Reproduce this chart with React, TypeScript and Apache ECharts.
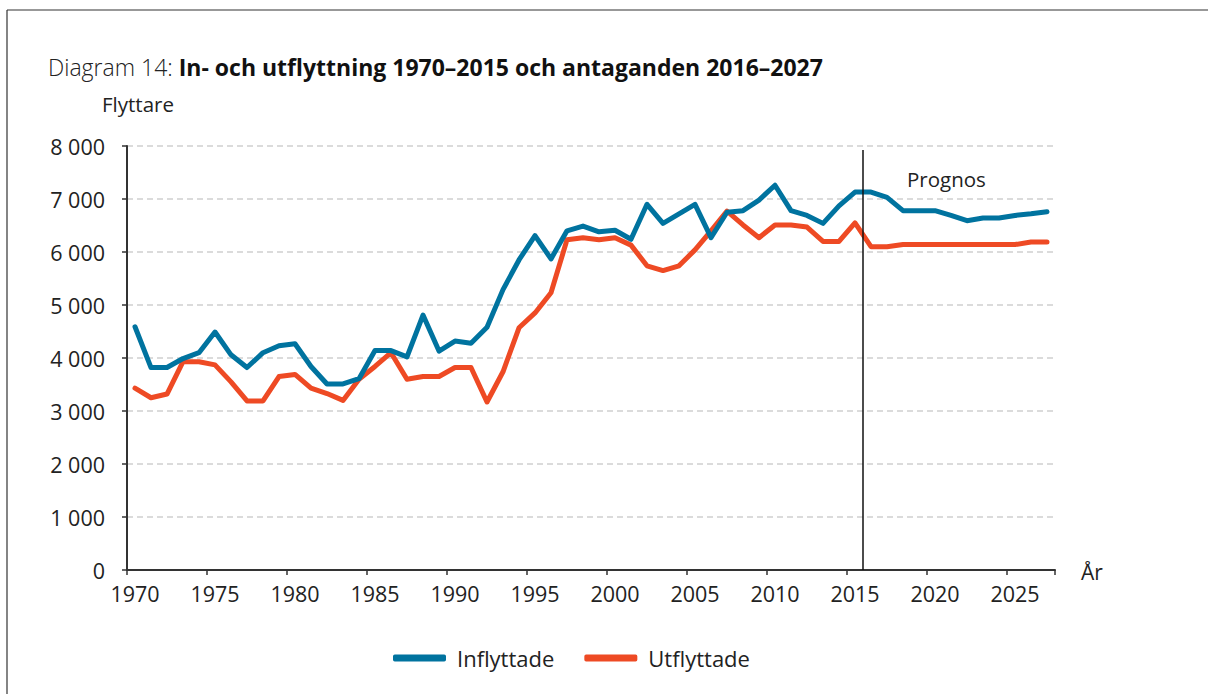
import React, { useEffect, useRef } from "react";
import * as echarts from "echarts";

const years: string[] = [];
for (let y = 1970; y <= 2027; y++) years.push(String(y));

const inflyttade = [
  4590, 3820, 3820, 3990, 4100, 4490, 4060, 3820, 4100, 4230, 4270,
  3840, 3510, 3510, 3610, 4140, 4140, 4020, 4810, 4130, 4320, 4280,
  4580, 5290, 5850, 6310, 5870, 6400, 6490, 6380, 6410, 6240, 6900,
  6540, 6720, 6900, 6270, 6750, 6780, 6980, 7260, 6780, 6690, 6540,
  6870, 7130, 7130, 7030, 6780, 6780, 6780, 6690, 6590, 6640, 6640,
  6690, 6720, 6760,
];

const utflyttade = [
  3430, 3250, 3320, 3930, 3930, 3870, 3550, 3190, 3190, 3650, 3690,
  3430, 3330, 3200, 3600, 3840, 4100, 3600, 3650, 3650, 3820, 3820,
  3170, 3740, 4570, 4850, 5230, 6230, 6270, 6230, 6270, 6130, 5740,
  5650, 5740, 6040, 6400, 6770, 6510, 6270, 6510, 6510, 6470, 6200,
  6200, 6550, 6100, 6100, 6140, 6140, 6140, 6140, 6140, 6140, 6140,
  6140, 6190, 6190,
];

const forecastStart = "2016";
const FONT = "'Open Sans', 'Noto Sans', sans-serif";

const fmt = (v: number) =>
  v >= 1000 ? `${Math.floor(v / 1000)} ${String(v % 1000).padStart(3, "0")}` : String(v);

export default function App() {
  const ref = useRef<HTMLDivElement>(null);
  useEffect(() => {
    if (!ref.current) return;
    const chart = echarts.init(ref.current, null, { renderer: "svg" });
    chart.setOption({
      animation: false,
      backgroundColor: "#ffffff",
      textStyle: { fontFamily: FONT },
      title: {
        left: 43,
        top: 50,
        text: "{a|Diagram 14: }{b|In- och utflyttning 1970–2015 och antaganden 2016–2027}",
        textStyle: {
          rich: {
            a: { fontSize: 23, color: "#222", fontFamily: FONT, fontWeight: 300 },
            b: { fontSize: 23, color: "#111", fontFamily: FONT, fontWeight: "bold" },
          },
        },
      },
      grid: { left: 127, right: 153, top: 146, bottom: 124, containLabel: false },
      legend: {
        left: 388,
        top: 642,
        itemWidth: 53,
        itemHeight: 7,
        itemGap: 30,
        icon: "roundRect",
        textStyle: { fontSize: 22, color: "#222", fontFamily: FONT, padding: [0, 0, 0, 6] },
        data: ["Inflyttade", "Utflyttade"],
      },
      xAxis: {
        type: "category",
        data: years,
        boundaryGap: true,
        name: "År",
        nameLocation: "end",
        nameGap: 26,
        nameTextStyle: { fontSize: 21, color: "#222", verticalAlign: "top", padding: [-9, 0, 0, 0] },
        axisLine: { lineStyle: { color: "#333", width: 2 } },
        axisTick: { show: true, interval: 4, length: 5, lineStyle: { color: "#333", width: 1.5 } },
        axisLabel: { interval: 4, fontSize: 21.5, color: "#222", margin: 12 },
        splitLine: { show: false },
      },
      yAxis: {
        type: "value",
        min: 0,
        max: 8000,
        interval: 1000,
        axisLine: { show: true, lineStyle: { color: "#333", width: 2 } },
        axisTick: { show: true, length: 5, lineStyle: { color: "#333", width: 1.5 } },
        axisLabel: { fontSize: 21.5, color: "#222", margin: 22, formatter: (v: number) => fmt(v) },
        splitLine: { lineStyle: { color: "#cfcfcf", type: [6, 4], width: 1.5 } },
      },
      series: [
        {
          name: "Inflyttade",
          type: "line",
          data: inflyttade,
          symbol: "none",
          color: "#00739f",
          lineStyle: { width: 5, color: "#00739f", cap: "round", join: "round" },
          z: 3,
        },
        {
          name: "Utflyttade",
          type: "line",
          data: utflyttade,
          symbol: "none",
          color: "#ee4a24",
          lineStyle: { width: 5, color: "#ee4a24", cap: "round", join: "round" },
          z: 2,
        },
      ],
    });

    const idx = years.indexOf(forecastStart);
    const xa = chart.convertToPixel({ xAxisIndex: 0 }, years[idx - 1]) as number;
    const xb = chart.convertToPixel({ xAxisIndex: 0 }, years[idx]) as number;
    const xLine = (xa + xb) / 2;
    const yTop = (chart.convertToPixel({ yAxisIndex: 0 }, 8000) as number) + 4;
    const yBot = chart.convertToPixel({ yAxisIndex: 0 }, 0) as number;

    chart.setOption({
      graphic: [
        { type: "line", shape: { x1: 7, y1: 10, x2: 1208, y2: 10 }, style: { stroke: "#333", lineWidth: 1.2 } },
        { type: "line", shape: { x1: 7, y1: 10, x2: 7, y2: 694 }, style: { stroke: "#333", lineWidth: 1.2 } },
        {
          type: "text",
          left: 102,
          top: 93,
          style: { text: "Flyttare", fontSize: 20.5, fill: "#222", fontFamily: FONT },
        },
        {
          type: "line",
          shape: { x1: xLine, y1: yTop, x2: xLine, y2: yBot },
          style: { stroke: "#111", lineWidth: 1.5 },
          z: 10,
        },
        {
          type: "text",
          left: 907,
          top: 168,
          style: { text: "Prognos", fontSize: 20.5, fill: "#222", fontFamily: FONT },
        },
      ],
    });

    return () => chart.dispose();
  }, []);

  return (
    <div
      ref={ref}
      style={{ position: "fixed", left: 0, top: 0, width: 1208, height: 694, background: "#fff" }}
    />
  );
}
